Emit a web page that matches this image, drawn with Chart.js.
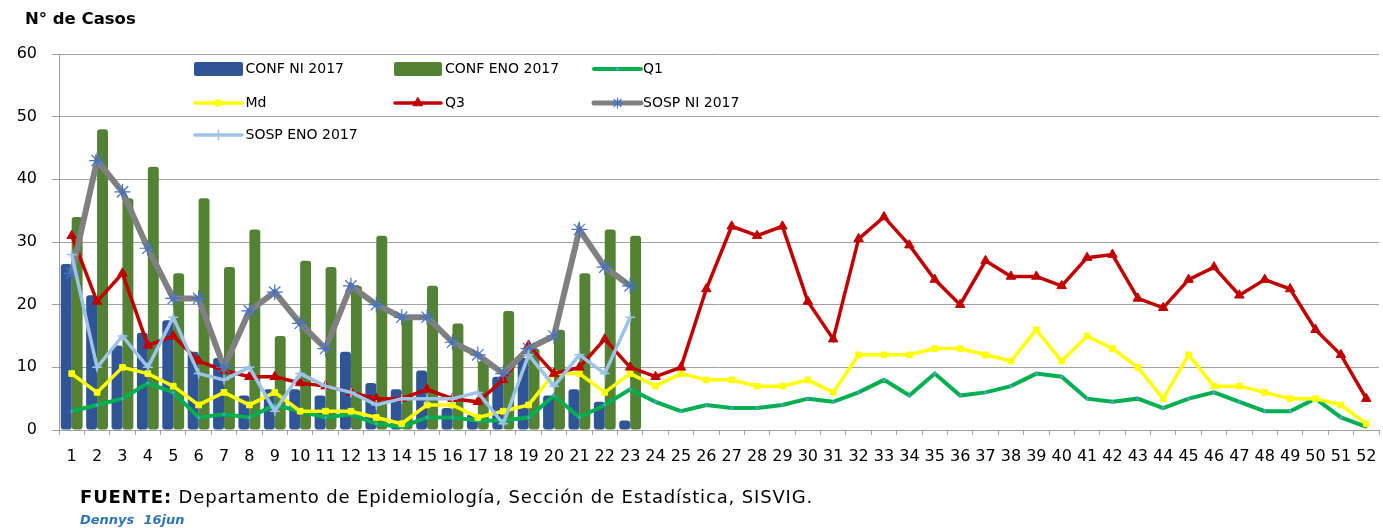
<!DOCTYPE html>
<html><head><meta charset="utf-8">
<script src="https://cdn.jsdelivr.net/npm/chart.js@4.4.1/dist/chart.umd.min.js"></script>
<style>
html,body{margin:0;padding:0;background:#fff;}
#wrap{position:relative;width:1383px;height:528px;overflow:hidden;background:#fff;}
canvas{position:absolute;left:0;top:0;}
.t{position:absolute;white-space:pre;font-family:"DejaVu Sans",sans-serif;color:#000;}
</style></head><body>
<div id="wrap">
<canvas id="c" width="1383" height="528"></canvas>
<div class="t" style="left:25px;top:9px;font-size:16.5px;line-height:20px;font-weight:bold;">N° de Casos</div>
<div class="t" style="left:80px;top:486px;font-size:18px;line-height:22px;letter-spacing:0.85px;"><b>FUENTE:</b> Departamento de Epidemiología, Sección de Estadística, SISVIG.</div>
<div class="t" style="left:80px;top:512px;font-size:13px;line-height:15px;font-weight:bold;font-style:italic;color:#2E75B6;">Dennys  16jun</div>
</div>
<script>
const weeks = ['1','2','3','4','5','6','7','8','9','10','11','12','13','14','15','16','17','18','19','20','21','22','23','24','25','26','27','28','29','30','31','32','33','34','35','36','37','38','39','40','41','42','43','44','45','46','47','48','49','50','51','52'];
const confNI2017 = [26.5,21.5,13.5,15.5,17.5,12.5,11.5,5.5,6.5,6.5,5.5,12.5,7.5,6.5,9.5,3.5,2.5,8.5,11.5,5.5,6.5,4.5,1.5];
const confENO2017 = [34,48,37,42,25,37,26,32,15,27,26,23,31,18,23,17,11,19,13,16,25,32,31];
const q1 = [3,4,5,7.5,6,2,2.5,2,4,3,2,2.5,1,0.5,2,2,1.5,1.5,2,5.5,2,4,6.5,4.5,3,4,3.5,3.5,4,5,4.5,6,8,5.5,9,5.5,6,7,9,8.5,5,4.5,5,3.5,5,6,4.5,3,3,5,2,0.5];
const md = [9,6,10,9,7,4,6,4,6,3,3,3,2,1,4,4,2,3,4,9,9,6,9,7,9,8,8,7,7,8,6,12,12,12,13,13,12,11,16,11,15,13,10,5,12,7,7,6,5,5,4,1];
const q3 = [31,20.5,25,13.5,15,11,9.5,8.5,8.5,7.5,7,6,5,5,6.5,5,4.5,8,13.5,9,10,14.5,10,8.5,10,22.5,32.5,31,32.5,20.5,14.5,30.5,34,29.5,24,20,27,24.5,24.5,23,27.5,28,21,19.5,24,26,21.5,24,22.5,16,12,5];
const sospNI2017 = [25,43,38,29,21,21,10,19,22,17,13,23,20,18,18,14,12,9,13,15,32,26,23];
const sospENO2017 = [28,10,15,10,18,9,8,10,3,9,7,6,4,5,5,5,6,1,12,7,12,9,18];
const seriesNames = ['CONF NI 2017','CONF ENO 2017','Q1','Md','Q3','SOSP NI 2017','SOSP ENO 2017'];
const yTickValues = [0,10,20,30,40,50,60];

Chart.defaults.font.family = '"DejaVu Sans", sans-serif';
Chart.defaults.color = '#000';

const GRID = '#A0A0A0';

const datasets = [
  {type:'bar', label:seriesNames[0], data:confNI2017, backgroundColor:'#2F5597', borderRadius:3, borderSkipped:false, order:10, categoryPercentage:0.86, barPercentage:1.0},
  {type:'bar', label:seriesNames[1], data:confENO2017, backgroundColor:'#548235', borderRadius:3, borderSkipped:false, order:10, categoryPercentage:0.86, barPercentage:1.0},
  {type:'line', label:seriesNames[2], data:q1, borderColor:'#00B050', borderWidth:4, pointStyle:'circle', pointRadius:1.5, pointBackgroundColor:'#5B9BD5', pointBorderColor:'#5B9BD5', pointBorderWidth:0, tension:0, order:5},
  {type:'line', label:seriesNames[3], data:md, borderColor:'#FFFF00', borderWidth:3.5, pointStyle:'rect', pointRadius:4, pointBackgroundColor:'#FFFF00', pointBorderColor:'#FFFF00', pointBorderWidth:1, tension:0, order:4},
  {type:'line', label:seriesNames[4], data:q3, borderColor:'#C00000', borderWidth:3.5, pointStyle:'triangle', pointRadius:5.5, pointBackgroundColor:'#C00000', pointBorderColor:'#C00000', pointBorderWidth:1, tension:0, order:3},
  {type:'line', label:seriesNames[5], data:sospNI2017, borderColor:'#808080', borderWidth:6, pointStyle:'star', pointRadius:8, pointBackgroundColor:'#4472C4', pointBorderColor:'#4472C4', pointBorderWidth:1.2, tension:0, order:2},
  {type:'line', label:seriesNames[6], data:sospENO2017, borderColor:'#9DC3E6', borderWidth:3.5, pointStyle:'cross', pointRadius:5, pointBackgroundColor:'#9DC3E6', pointBorderColor:'#9DC3E6', pointBorderWidth:1.5, tension:0, order:1}
];

// legend placement (dataset index, swatch x, text x, row y)
const legendLayout = [
  {ds:0, x0:194, x1:243, tx:245.5, y:69},
  {ds:1, x0:394, x1:442, tx:445, y:69},
  {ds:2, x0:594, x1:641, tx:643, y:69},
  {ds:3, x0:195, x1:242, tx:245.5, y:103},
  {ds:4, x0:395, x1:441, tx:445, y:103},
  {ds:5, x0:594, x1:641, tx:643, y:103},
  {ds:6, x0:195, x1:242, tx:245.5, y:135}
];

const legendPlugin = {
  id:'customLegend',
  afterDraw(chart){
    const ctx = chart.ctx;
    ctx.save();
    ctx.font = '14px "DejaVu Sans", sans-serif';
    ctx.textBaseline = 'middle';
    legendLayout.forEach(it => {
      const ds = chart.data.datasets[it.ds];
      if (ds.type === 'bar') {
        ctx.fillStyle = ds.backgroundColor;
        ctx.beginPath();
        if (ctx.roundRect) ctx.roundRect(it.x0, it.y - 7, it.x1 - it.x0, 14, 2);
        else ctx.rect(it.x0, it.y - 7, it.x1 - it.x0, 14);
        ctx.fill();
      } else {
        ctx.strokeStyle = ds.borderColor;
        ctx.lineWidth = Math.min(ds.borderWidth, 5);
        ctx.lineCap = 'round';
        ctx.beginPath();
        ctx.moveTo(it.x0, it.y);
        ctx.lineTo(it.x1, it.y);
        ctx.stroke();
        ctx.fillStyle = ds.pointBackgroundColor;
        ctx.strokeStyle = ds.pointBorderColor;
        ctx.lineWidth = ds.pointBorderWidth;
        const r = ds.pointStyle === 'star' ? 5 : (ds.pointStyle === 'triangle' ? 5.5 : ds.pointRadius);
        Chart.helpers.drawPoint(ctx, {pointStyle:ds.pointStyle, rotation:0, radius:r, borderWidth:ds.pointBorderWidth}, (it.x0 + it.x1) / 2, it.y);
      }
      ctx.fillStyle = '#000';
      ctx.fillText(ds.label, it.tx, it.y);
    });
    ctx.restore();
  }
};

new Chart(document.getElementById('c'), {
  data:{labels:weeks, datasets:datasets},
  options:{
    responsive:false,
    animation:false,
    devicePixelRatio:1,
    layout:{padding:{left:0, right:4, top:54, bottom:58}, autoPadding:false},
    plugins:{legend:{display:false}, tooltip:{enabled:false}},
    scales:{
      x:{
        type:'category', offset:true,
        grid:{display:true, drawOnChartArea:false, drawTicks:true, tickLength:5, color:GRID, offset:true},
        border:{display:true, color:GRID, width:1},
        ticks:{autoSkip:false, maxRotation:0, minRotation:0, font:{size:16}, padding:12, color:'#000'},
        afterFit(s){ s.height = 40; s.paddingLeft = 0; s.paddingRight = 0; }
      },
      y:{
        min:0, max:60,
        afterBuildTicks(s){ s.ticks = yTickValues.map(v => ({value:v})); },
        grid:{color:GRID, lineWidth:1, tickLength:7, drawTicks:true},
        border:{display:true, color:GRID, width:1},
        ticks:{font:{size:16}, padding:15, color:'#000'},
        afterFit(s){ s.width = 59; s.paddingTop = 0; s.paddingBottom = 0; }
      }
    }
  },
  plugins:[legendPlugin]
});
</script>
</body></html>
